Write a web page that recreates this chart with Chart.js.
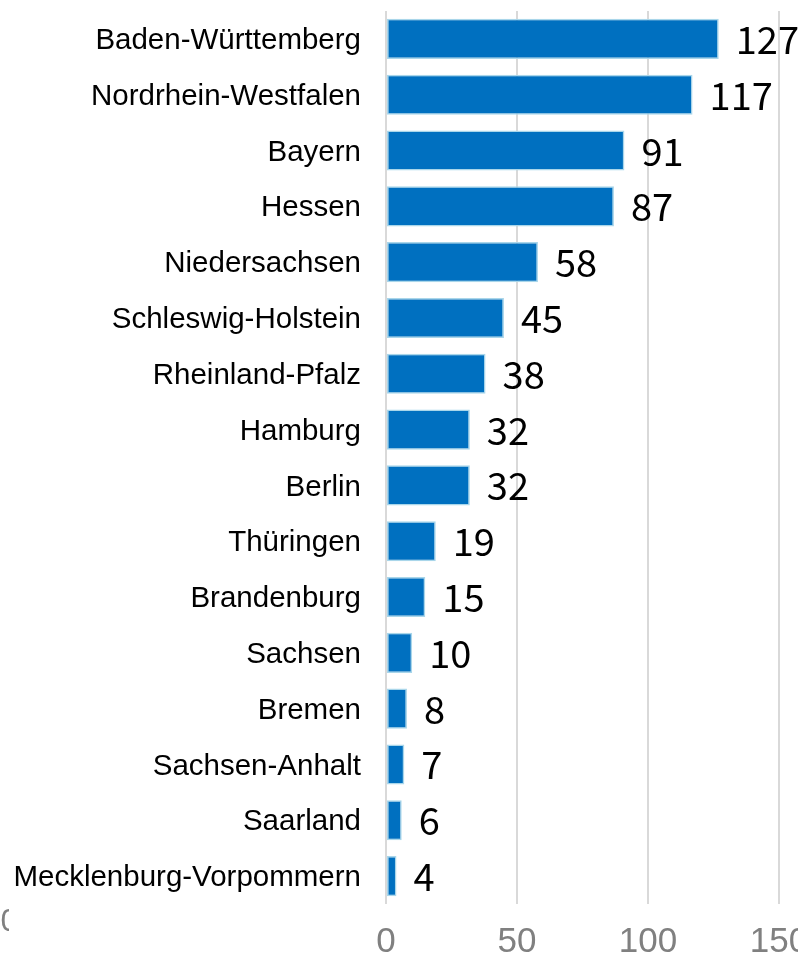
<!DOCTYPE html>
<html>
<head>
<meta charset="utf-8">
<script src="https://cdn.jsdelivr.net/npm/chart.js@4/dist/chart.umd.min.js"></script>
<style>
  html, body { margin: 0; padding: 0; background: #ffffff; }
  #wrap { width: 798px; height: 953px; position: relative; }
</style>
</head>
<body>
<div id="wrap"><canvas id="c"></canvas></div>
<script>
const categories = [
  "Baden-Württemberg", "Nordrhein-Westfalen", "Bayern", "Hessen",
  "Niedersachsen", "Schleswig-Holstein", "Rheinland-Pfalz", "Hamburg",
  "Berlin", "Thüringen", "Brandenburg", "Sachsen", "Bremen",
  "Sachsen-Anhalt", "Saarland", "Mecklenburg-Vorpommern"
];
const values = [127, 117, 91, 87, 58, 45, 38, 32, 32, 19, 15, 10, 8, 7, 6, 4];
const xTicks = [0, 50, 100, 150];
const strayLabel = "0";

const valueLabels = {
  id: 'valueLabels',
  afterDatasetsDraw(chart) {
    const ctx = chart.ctx;
    const meta = chart.getDatasetMeta(0);
    const xs = chart.scales.x;
    ctx.save();
    ctx.font = '38px "Noto Sans CJK JP", "Noto Sans", sans-serif';
    ctx.fillStyle = '#000000';
    ctx.textAlign = 'left';
    ctx.textBaseline = 'alphabetic';
    meta.data.forEach((el, i) => {
      const px = xs.getPixelForValue(values[i]) + 17;
      ctx.fillText(String(values[i]), px, el.y + 15);
    });
    ctx.restore();
  }
};

const stray = {
  id: 'stray',
  afterDraw(chart) {
    const ctx = chart.ctx;
    ctx.save();
    ctx.beginPath();
    ctx.rect(0, 890, 9, 50);
    ctx.clip();
    ctx.font = '32px "Liberation Sans", Arial, sans-serif';
    ctx.fillStyle = '#808080';
    ctx.textAlign = 'left';
    ctx.textBaseline = 'alphabetic';
    ctx.fillText(strayLabel, 0.5, 931);
    ctx.restore();
  }
};

new Chart(document.getElementById('c'), {
  type: 'bar',
  data: {
    labels: categories,
    datasets: [{
      data: values,
      backgroundColor: '#0070C0',
      borderColor: '#A9D6EA',
      borderWidth: 1.5,
      borderSkipped: false,
      barPercentage: 0.9,
      categoryPercentage: 0.8
    }]
  },
  options: {
    indexAxis: 'y',
    responsive: true,
    maintainAspectRatio: false,
    animation: false,
    devicePixelRatio: 1,
    layout: { padding: { top: 11, right: 19, left: 0, bottom: 0 } },
    plugins: {
      legend: { display: false },
      tooltip: { enabled: false },
      title: { display: false }
    },
    scales: {
      x: {
        type: 'linear',
        min: 0,
        max: 150,
        afterBuildTicks(scale) {
          scale.ticks = xTicks.map(v => ({ value: v }));
        },
        afterFit(scale) {
          scale.height = 49;
          scale.paddingLeft = 0;
          scale.paddingRight = 0;
        },
        border: { display: false },
        grid: {
          color: '#D9D9D9',
          lineWidth: 2,
          drawTicks: false
        },
        ticks: {
          color: '#808080',
          padding: 17,
          maxRotation: 0,
          autoSkip: false,
          font: { family: '"Liberation Sans", Arial, sans-serif', size: 35 }
        }
      },
      y: {
        type: 'category',
        afterFit(scale) {
          scale.width = 386;
          scale.paddingTop = 0;
          scale.paddingBottom = 0;
        },
        border: { display: false },
        grid: { display: false, drawTicks: false },
        ticks: {
          color: '#000000',
          padding: 25,
          labelOffset: 2,
          autoSkip: false,
          font: { family: '"Liberation Sans", Arial, sans-serif', size: 29.5 }
        }
      }
    }
  },
  plugins: [valueLabels, stray]
});
</script>
</body>
</html>
